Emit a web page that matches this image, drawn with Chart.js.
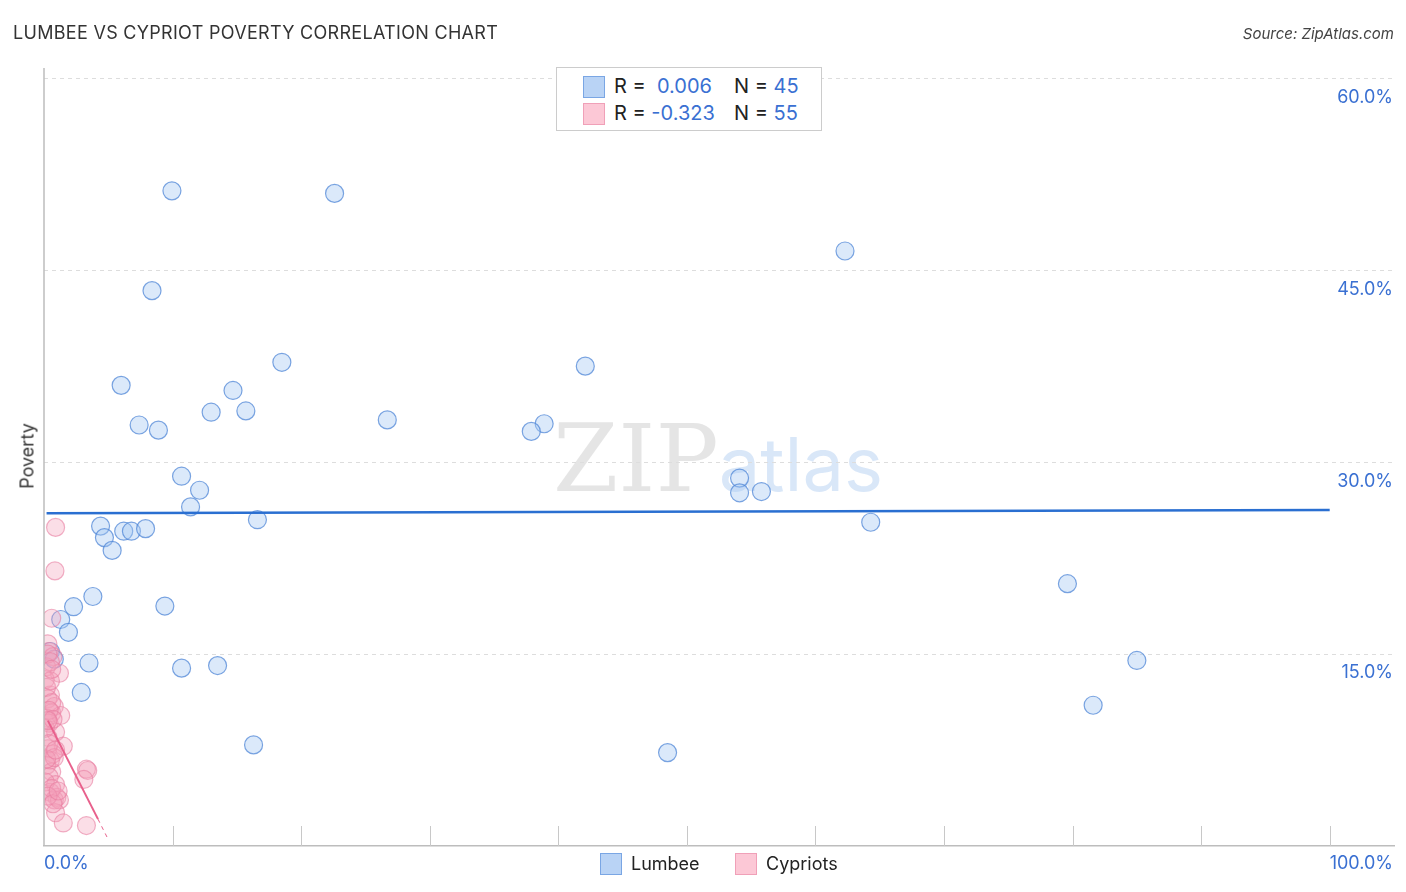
<!DOCTYPE html>
<html>
<head>
<meta charset="utf-8">
<script src="https://cdn.jsdelivr.net/npm/chart.js@4.4.0/dist/chart.umd.min.js"></script>
<style>
    body { margin: 0; background: #fff; font-family: 'Inter', 'Noto Sans', sans-serif; }
    #wrap { position: relative; width: 1406px; height: 892px; }
    canvas { position: absolute; left: 0; top: 0; }
    .abs { position: absolute; white-space: nowrap; }
    .title { left: 13px; top: 22px; font-size: 18px; color: #333; letter-spacing: 0.3px; }
    .source { right: 12px; top: 24px; font-size: 15px; color: #444; font-style: italic; }
    .ylabel { left: 27px; top: 456px; font-size: 18px; color: #333; transform: translate(-50%, -50%) rotate(-90deg); }
    .legend-top { left: 556px; top: 67px; width: 264px; height: 62px; border: 1px solid #ccc; background: #fff; }
    .sw { position: absolute; width: 20px; height: 20px; border: 1px solid; }
    .lt { position: absolute; font-size: 20px; color: #222; }
    .lt b { font-weight: normal; color: #3a70d2; }
    .bl { position: absolute; top: 853px; font-size: 18px; color: #222; }
    .watermark { left: 553px; top: 404px; font-size: 94px; font-family: 'DejaVu Serif', serif; color: rgba(170,170,170,0.3); }
    .watermark span { font-family: 'Inter', sans-serif; font-size: 74px; color: rgba(120,170,230,0.28); }
</style>
</head>
<body>
<div id="wrap">
    <div class="abs watermark">ZIP<span>atlas</span></div>
    <canvas id="chart" width="1406" height="892"></canvas>
    <div class="abs title">LUMBEE VS CYPRIOT POVERTY CORRELATION CHART</div>
    <div class="abs source">Source: ZipAtlas.com</div>
    <div class="abs ylabel">Poverty</div>
    <div class="abs legend-top">
        <div class="sw" style="left:26px; top:8px; background:#b9d3f5; border-color:#7aa6e4;"></div>
        <div class="sw" style="left:26px; top:35px; background:#fcc8d6; border-color:#f0a0b8;"></div>
        <div class="lt" style="left:57px; top:6px;">R = &nbsp;<b>0.006</b></div>
        <div class="lt" style="left:177px; top:6px;">N = <b>45</b></div>
        <div class="lt" style="left:57px; top:33px;">R = <b>-0.323</b></div>
        <div class="lt" style="left:177px; top:33px;">N = <b>55</b></div>
    </div>
    <div class="sw" style="left:600px; top:853px; background:#b9d3f5; border-color:#7aa6e4;"></div>
    <div class="bl" style="left:631px;">Lumbee</div>
    <div class="sw" style="left:735px; top:853px; background:#fcc8d6; border-color:#f0a0b8;"></div>
    <div class="bl" style="left:766px;">Cypriots</div>
</div>
<script>
// Lumbee points: [x %, poverty %]
const lumbeeX = [9.95, 22.6, 62.3, 8.4, 18.5, 42.1, 6.0, 14.7, 13.0, 15.7, 26.7, 7.4, 8.9, 38.9, 37.9,
    10.7, 54.1, 12.1, 54.1, 55.8, 11.4, 16.6, 64.3, 4.4, 4.7, 6.2, 6.8, 7.9, 5.3, 79.6,
    3.8, 2.3, 9.4, 1.3, 1.9, 0.5, 0.8, 3.5, 10.7, 13.5, 85.0, 2.9, 81.6, 16.3, 48.5];
const lumbeeY = [51.2, 51.0, 46.5, 43.4, 37.8, 37.5, 36.0, 35.6, 33.9, 34.0, 33.3, 32.9, 32.5, 33.0, 32.4,
    28.9, 28.75, 27.8, 27.6, 27.7, 26.5, 25.5, 25.3, 25.0, 24.1, 24.6, 24.6, 24.8, 23.1, 20.5,
    19.5, 18.7, 18.75, 17.7, 16.7, 15.2, 14.6, 14.3, 13.9, 14.1, 14.5, 12.0, 11.0, 7.9, 7.3];

// Cypriot points
const cyprX = [0.9, 0.85, 0.6, 0.3, 0.4, 0.7, 0.2, 1.2, 0.1, 0.5, 0.3, 0.8, 0.6, 1.3, 0.2, 0.4, 0.9, 0.3,
    1.5, 0.3, 0.7, 0.5, 0.2, 0.6, 0.4, 0.9, 0.5, 1.0, 0.8, 1.2, 0.9, 1.5, 3.3, 3.4, 3.1, 3.3,
    0.3, 0.5, 0.2, 0.6, 0.4, 0.1, 0.7, 0.4, 0.8, 0.1, 0.6, 0.3, 0.7, 1.1, 0.2, 0.5, 0.9, 0.3, 0.6];
const cyprY = [24.9, 21.5, 17.8, 15.8, 15.2, 14.8, 14.0, 13.5, 13.0, 11.8, 11.5, 10.9, 10.4, 10.2, 10.0, 9.6, 8.9, 8.5,
    7.8, 7.6, 7.2, 6.7, 6.3, 5.8, 5.4, 4.8, 4.2, 3.8, 3.6, 3.6, 2.6, 1.8, 6.0, 5.9, 5.2, 1.6,
    15.0, 14.4, 12.4, 11.2, 10.6, 9.2, 9.9, 8.0, 6.9, 5.0, 4.5, 3.9, 3.3, 4.3, 6.8, 12.9, 7.5, 9.8, 13.8];

// Trend lines
const lumbeeTrendX = [0.2, 100];
const lumbeeTrendY = [26.0, 26.25];
const cyprTrendX = [0.3, 4.2];
const cyprTrendY = [9.8, 2.1];
const cyprDashX = [4.2, 5.0];
const cyprDashY = [2.1, 0.5];

const yTicks = [15, 30, 45, 60];
const xTicks = [0, 10, 20, 30, 40, 50, 60, 70, 80, 90, 100];
const xTickLabels = { 0: '0.0%', 100: '100.0%' };

const toPts = (xs, ys) => xs.map((x, i) => ({ x, y: ys[i] }));

const labelPlugin = {
    id: 'labels',
    afterDraw(chart) {
        const { ctx, scales: { x, y } } = chart;
        ctx.save();
        // solid left axis line
        ctx.strokeStyle = '#bdbdbd';
        ctx.lineWidth = 1.5;
        ctx.beginPath();
        ctx.moveTo(x.left, y.top);
        ctx.lineTo(x.left, y.bottom);
        ctx.stroke();
        // x tick marks, upward from axis
        ctx.strokeStyle = '#c8c8c8';
        ctx.lineWidth = 1;
        xTicks.forEach(v => {
            if (v === 0) return;
            const px = Math.round(x.getPixelForValue(v)) + 0.5;
            ctx.beginPath();
            ctx.moveTo(px, y.bottom);
            ctx.lineTo(px, y.bottom - 20);
            ctx.stroke();
        });
        ctx.fillStyle = '#3a70d2';
        ctx.font = '18px Inter, "Noto Sans", sans-serif';
        ctx.textBaseline = 'middle';
        // y tick labels inside plot, right side
        ctx.textAlign = 'right';
        yTicks.forEach(v => {
            ctx.fillText(v.toFixed(1) + '%', 1393, y.getPixelForValue(v) + 19);
        });
        // x end labels
        ctx.textAlign = 'left';
        ctx.fillText(xTickLabels[0], x.getPixelForValue(0), 864);
        ctx.textAlign = 'right';
        ctx.fillText(xTickLabels[100], 1393, 864);
        ctx.restore();
    }
};

new Chart(document.getElementById('chart'), {
    type: 'scatter',
    data: {
        datasets: [
            {
                label: 'Lumbee trend',
                type: 'line',
                data: toPts(lumbeeTrendX, lumbeeTrendY),
                borderColor: '#2a6fd1',
                borderWidth: 2.5,
                pointRadius: 0,
                order: 0
            },
            {
                label: 'Cypriots trend',
                type: 'line',
                data: toPts(cyprTrendX, cyprTrendY),
                borderColor: '#e8608c',
                borderWidth: 2,
                pointRadius: 0,
                order: 0
            },
            {
                label: 'Cypriots trend ext',
                type: 'line',
                data: toPts(cyprDashX, cyprDashY),
                borderColor: '#e8608c',
                borderWidth: 1,
                borderDash: [4, 4],
                pointRadius: 0,
                order: 0
            },
            {
                label: 'Lumbee',
                data: toPts(lumbeeX, lumbeeY),
                backgroundColor: 'rgba(165, 200, 242, 0.4)',
                borderColor: 'rgba(80, 135, 215, 0.75)',
                borderWidth: 1.2,
                pointRadius: 9,
                order: 2
            },
            {
                label: 'Cypriots',
                data: toPts(cyprX, cyprY),
                backgroundColor: 'rgba(244, 160, 186, 0.35)',
                borderColor: 'rgba(232, 125, 160, 0.6)',
                borderWidth: 1.2,
                pointRadius: 9,
                order: 1
            }
        ]
    },
    options: {
        responsive: false,
        animation: false,
        layout: { padding: { left: 44, right: 12, top: 68, bottom: 46 } },
        plugins: { legend: { display: false }, tooltip: { enabled: false } },
        scales: {
            x: {
                type: 'linear',
                min: 0,
                max: 105,
                ticks: { display: false },
                grid: { display: false, drawTicks: false },
                border: { display: true, color: '#bdbdbd', width: 1.5 }
            },
            y: {
                type: 'linear',
                min: 0,
                max: 60.8,
                afterBuildTicks: axis => { axis.ticks = yTicks.map(v => ({ value: v })); },
                ticks: { display: false },
                grid: { color: '#dddddd', drawTicks: false },
                border: { display: false, dash: [4, 4] }
            }
        }
    },
    plugins: [labelPlugin]
});
</script>
</body>
</html>
